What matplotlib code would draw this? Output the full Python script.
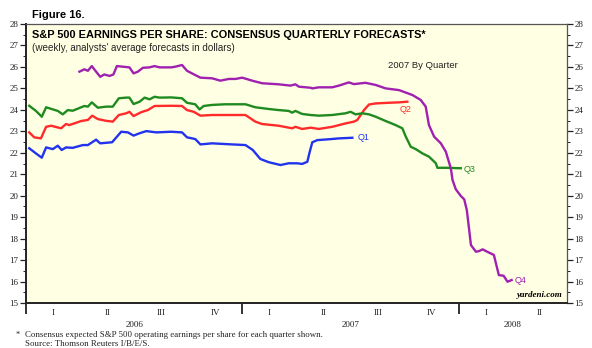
import matplotlib
matplotlib.use('Agg')
import matplotlib.pyplot as plt
from matplotlib.ticker import MultipleLocator, FixedLocator, NullFormatter

# weekly consensus EPS forecasts for each 2007 quarter (x in fractional years)
q1_x = [2006.015, 2006.046, 2006.073, 2006.093, 2006.124, 2006.147, 2006.165, 2006.185,
        2006.216, 2006.263, 2006.286, 2006.324, 2006.343, 2006.398, 2006.440, 2006.471,
        2006.497, 2006.525, 2006.556, 2006.602, 2006.671, 2006.721, 2006.744, 2006.782,
        2006.806, 2006.860, 2006.952, 2007.014, 2007.048, 2007.083, 2007.122, 2007.176,
        2007.214, 2007.253, 2007.276, 2007.300, 2007.310, 2007.323, 2007.346, 2007.400,
        2007.446, 2007.508]
q1_y = [22.21, 21.97, 21.77, 22.25, 22.17, 22.33, 22.13, 22.25,
        22.23, 22.36, 22.36, 22.61, 22.44, 22.49, 22.98, 22.95,
        22.80, 22.91, 23.01, 22.95, 22.98, 22.95, 22.72, 22.64,
        22.39, 22.44, 22.39, 22.36, 22.13, 21.71, 21.56, 21.43,
        21.51, 21.51, 21.48, 21.58, 22.00, 22.49, 22.59, 22.63,
        22.67, 22.70]

q2_x = [2006.015, 2006.038, 2006.069, 2006.093, 2006.116, 2006.162, 2006.185, 2006.200,
        2006.255, 2006.286, 2006.306, 2006.332, 2006.370, 2006.401, 2006.429, 2006.463,
        2006.478, 2006.497, 2006.532, 2006.563, 2006.594, 2006.671, 2006.721, 2006.744,
        2006.775, 2006.806, 2006.860, 2007.014, 2007.060, 2007.091, 2007.168, 2007.230,
        2007.245, 2007.276, 2007.315, 2007.353, 2007.415, 2007.477, 2007.515, 2007.531,
        2007.562, 2007.585, 2007.616, 2007.677, 2007.724, 2007.762]
q2_y = [22.95, 22.72, 22.67, 23.21, 23.26, 23.14, 23.34, 23.29,
        23.48, 23.53, 23.73, 23.57, 23.49, 23.45, 23.76, 23.84,
        23.91, 23.71, 23.89, 23.99, 24.18, 24.19, 24.18, 23.99,
        23.91, 23.73, 23.76, 23.76, 23.45, 23.34, 23.26, 23.14,
        23.21, 23.11, 23.17, 23.11, 23.21, 23.37, 23.45, 23.53,
        23.99, 24.25, 24.30, 24.33, 24.35, 24.38]

q3_x = [2006.015, 2006.046, 2006.073, 2006.093, 2006.147, 2006.170, 2006.193, 2006.216,
        2006.270, 2006.286, 2006.304, 2006.332, 2006.370, 2006.401, 2006.429, 2006.463,
        2006.478, 2006.497, 2006.525, 2006.548, 2006.571, 2006.594, 2006.617, 2006.671,
        2006.721, 2006.744, 2006.782, 2006.802, 2006.821, 2006.860, 2006.921, 2007.014,
        2007.060, 2007.122, 2007.168, 2007.214, 2007.230, 2007.245, 2007.276, 2007.315,
        2007.353, 2007.415, 2007.477, 2007.500, 2007.523, 2007.554, 2007.585, 2007.616,
        2007.662, 2007.708, 2007.739, 2007.755, 2007.778, 2007.801, 2007.832, 2007.862,
        2007.894, 2007.901, 2007.940, 2008.009]
q3_y = [24.19, 23.95, 23.68, 24.12, 23.95, 23.79, 23.99, 23.96,
        24.18, 24.15, 24.35, 24.10, 24.15, 24.15, 24.54, 24.57,
        24.57, 24.27, 24.38, 24.57, 24.49, 24.61, 24.57, 24.58,
        24.54, 24.33, 24.26, 24.02, 24.18, 24.23, 24.26, 24.26,
        24.12, 24.04, 23.99, 23.95, 23.87, 23.95, 23.81, 23.76,
        23.73, 23.76, 23.84, 23.91, 23.79, 23.84, 23.79, 23.68,
        23.48, 23.29, 23.14, 22.75, 22.28, 22.17, 21.97, 21.82,
        21.51, 21.30, 21.30, 21.28]

q4_x = [2006.247, 2006.270, 2006.286, 2006.304, 2006.324, 2006.343, 2006.362, 2006.386,
        2006.404, 2006.420, 2006.448, 2006.478, 2006.497, 2006.517, 2006.540, 2006.571,
        2006.594, 2006.617, 2006.671, 2006.690, 2006.721, 2006.744, 2006.767, 2006.806,
        2006.860, 2006.898, 2006.937, 2006.968, 2006.999, 2007.045, 2007.091, 2007.168,
        2007.222, 2007.245, 2007.261, 2007.315, 2007.323, 2007.353, 2007.415, 2007.446,
        2007.492, 2007.515, 2007.569, 2007.616, 2007.662, 2007.724, 2007.786, 2007.824,
        2007.847, 2007.862, 2007.886, 2007.917, 2007.940, 2007.963, 2007.971, 2007.986,
        2008.009, 2008.025, 2008.037, 2008.048, 2008.056, 2008.079, 2008.094, 2008.110,
        2008.131, 2008.162, 2008.185, 2008.207, 2008.225, 2008.244]
q4_y = [25.78, 25.89, 25.82, 26.04, 25.78, 25.54, 25.65, 25.58,
        25.65, 26.04, 26.01, 25.98, 25.70, 25.78, 25.96, 25.98,
        26.04, 25.98, 25.98, 26.01, 26.09, 25.82, 25.70, 25.50,
        25.47, 25.36, 25.44, 25.44, 25.50, 25.36, 25.24, 25.19,
        25.13, 25.19, 25.08, 25.03, 25.00, 25.05, 25.05, 25.13,
        25.28, 25.20, 25.26, 25.16, 25.00, 24.92, 24.69, 24.46,
        24.15, 23.29, 22.75, 22.44, 22.05, 21.28, 20.73, 20.30,
        19.99, 19.83, 19.33, 18.40, 17.70, 17.39, 17.42, 17.50,
        17.39, 17.24, 16.30, 16.27, 15.99, 16.07]

quarter_names = ['I', 'II', 'III', 'IV']
years = [2006, 2007, 2008]

fig = plt.figure(figsize=(5.92, 3.48), dpi=100)
ax = fig.add_axes([0.0439, 0.1293, 0.9139, 0.8017])
ax.set_facecolor('#ffffe3')

lw = 1.7
ax.plot(q1_x, q1_y, color='#2233ee', lw=lw, solid_joinstyle='round')
ax.plot(q2_x, q2_y, color='#ff2a2a', lw=lw, solid_joinstyle='round')
ax.plot(q3_x, q3_y, color='#1f8a1f', lw=lw, solid_joinstyle='round')
ax.plot(q4_x, q4_y, color='#a020b0', lw=lw, solid_joinstyle='round')

sans = 'Liberation Sans'
serif = 'Liberation Serif'
ax.text(q1_x[-1] + 0.025, q1_y[-1], 'Q1', color='#2233ee', fontsize=6.5, family=sans, va='center')
ax.text(2007.725, 24.0, 'Q2', color='#ff2a2a', fontsize=6.5, family=sans, va='center')
ax.text(q3_x[-1] + 0.015, q3_y[-1] - 0.05, 'Q3', color='#1f8a1f', fontsize=6.5, family=sans, va='center')
ax.text(q4_x[-1] + 0.015, q4_y[-1], 'Q4', color='#a020b0', fontsize=6.5, family=sans, va='center')

ax.set_xlim(2006.0, 2008.5)
ax.set_ylim(15, 28)

# y axis on both sides
ax.yaxis.set_major_locator(MultipleLocator(1))
ax.yaxis.set_minor_locator(MultipleLocator(0.5))
ax.tick_params(axis='y', which='both', left=True, right=True, labelleft=True, labelright=True,
               direction='out', labelsize=6.5, pad=1.5, colors='#222222')
ax.tick_params(axis='y', which='major', length=4, width=0.9)
ax.tick_params(axis='y', which='minor', length=2, width=0.7)
for lab in ax.get_yticklabels():
    lab.set_family(serif)

# x axis: year boundaries as long ticks, quarter names as labels
ax.xaxis.set_major_locator(FixedLocator(years))
ax.xaxis.set_major_formatter(NullFormatter())
ax.tick_params(axis='x', which='major', direction='out', length=8, width=1.3, colors='#222222')

for yr in years:
    for qi, qn in enumerate(quarter_names):
        xc = yr + 0.125 + 0.25 * qi
        if xc > 2008.5:
            continue
        ax.text(xc, -0.022, qn, transform=ax.get_xaxis_transform(), ha='center', va='top',
                fontsize=6.5, family=serif, color='#222222')
for xc, lbl in [(2006.5, '2006'), (2007.5, '2007'), (2008.25, '2008')]:
    ax.text(xc, -0.063, lbl, transform=ax.get_xaxis_transform(), ha='center', va='top',
            fontsize=6.5, family=serif, color='#222222')

for side in ['left', 'bottom']:
    ax.spines[side].set_linewidth(1.4)
    ax.spines[side].set_color('#222222')
for side in ['top', 'right']:
    ax.spines[side].set_linewidth(0.9)
    ax.spines[side].set_color('#555555')

fig.text(0.054, 0.958, 'Figure 16.', fontsize=8, fontweight='bold', family=sans, va='center')
ax.text(0.011, 0.98, 'S&P 500 EARNINGS PER SHARE: CONSENSUS QUARTERLY FORECASTS*',
        transform=ax.transAxes, fontsize=7.9, fontweight='bold', family=sans, va='top')
ax.text(0.011, 0.932, "(weekly, analysts' average forecasts in dollars)",
        transform=ax.transAxes, fontsize=7.1, family=sans, va='top', color='#222222')
ax.text(0.734, 0.853, '2007 By Quarter', transform=ax.transAxes, fontsize=6.8,
        family=sans, ha='center', va='center', color='#222222')
ax.text(0.992, 0.015, 'yardeni.com', transform=ax.transAxes, fontsize=6.5, family=serif,
        fontweight='bold', fontstyle='italic', ha='right', va='bottom')

fig.text(0.027, 0.037, '*', fontsize=6, family=serif, va='center', color='#222222')
fig.text(0.042, 0.037, 'Consensus expected S&P 500 operating earnings per share for each quarter shown.',
         fontsize=6.4, family=serif, va='center', color='#222222')
fig.text(0.042, 0.012, 'Source: Thomson Reuters I/B/E/S.', fontsize=6.4, family=serif,
         va='center', color='#222222')

fig.savefig('out.png', dpi=100)
